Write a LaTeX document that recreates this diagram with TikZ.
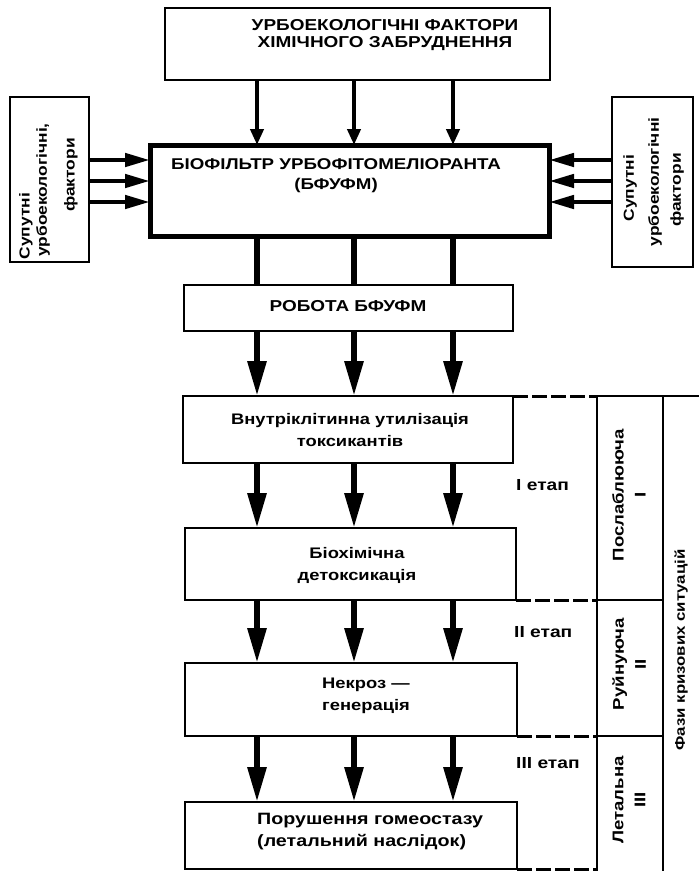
\documentclass[tikz,border=0pt]{standalone}
\usepackage{fontspec}
\setmainfont[FakeStretch=1.2]{Liberation Sans}
\usetikzlibrary{arrows.meta}
\begin{document}
\begin{tikzpicture}[x=1pt,y=-1pt,
  box/.style={draw, line width=2.4pt, rectangle, inner sep=0pt, outer sep=0pt, anchor=north west},
  txt/.style={font=\bfseries\fontsize{15.8}{17}\selectfont, align=center, inner sep=0pt},
  ltxt/.style={font=\bfseries\fontsize{15.3}{22}\selectfont, inner sep=0pt},
  stg/.style={font=\bfseries\fontsize{16}{18}\selectfont, inner sep=0pt, anchor=west},
  rot/.style={font=\bfseries\fontsize{15.5}{22}\selectfont, inner sep=0pt, rotate=90, align=center},
  side/.style={font=\bfseries\fontsize{14.5}{18}\selectfont, inner sep=0pt, rotate=90},
  bigarr/.style={line width=6pt, -{Triangle[length=35pt,width=18pt]}},
  midarr/.style={line width=4.5pt, -{Triangle[length=16pt,width=13pt]}},
  sidearr/.style={line width=4.5pt, -{Triangle[length=25pt,width=13pt]}},
  plainln/.style={line width=6pt},
  dashln/.style={line width=3pt, dash pattern=on 15pt off 4pt},
  colln/.style={line width=2.4pt}]
\useasboundingbox (0,0) rectangle (699,871);

% column coordinates
\coordinate (c1) at (257,0);
\coordinate (c2) at (354,0);
\coordinate (c3) at (453,0);
\coordinate (r1) at (0,160);
\coordinate (r2) at (0,181);
\coordinate (r3) at (0,202);

% boxes
\node[box, minimum width=385pt, minimum height=72pt] (top) at (165,8) {};
\node[box, line width=5pt, minimum width=399pt, minimum height=91pt] (bf) at (150,145) {};
\node[box, minimum width=79pt, minimum height=165pt] (lbox) at (10,97) {};
\node[box, minimum width=81pt, minimum height=170pt] (rbox) at (612,97) {};
\node[box, minimum width=329pt, minimum height=46pt] (rob) at (184,285) {};
\node[box, minimum width=330pt, minimum height=67pt] (b1) at (183,396) {};
\node[box, minimum width=331pt, minimum height=72pt] (b2) at (185,528) {};
\node[box, minimum width=332pt, minimum height=73pt] (b3) at (185,663) {};
\node[box, minimum width=332pt, minimum height=67pt] (b4) at (185,802) {};

% texts
\node[txt] (ttop) at (385,35) {УРБОЕКОЛОГІЧНІ ФАКТОРИ\\ХІМІЧНОГО ЗАБРУДНЕННЯ};
\node[txt, font=\bfseries\fontsize{15.6}{20}\selectfont] (tbf) at (336,176) {БІОФІЛЬТР УРБОФІТОМЕЛІОРАНТА\\(БФУФМ)};
\node[txt] (trob) at (348,306) {РОБОТА БФУФМ};
\node[ltxt, align=center] (tb1) at (350,430) {Внутріклітинна утилізація\\токсикантів};
\node[ltxt, align=center] (tb2) at (357,565) {Біохімічна\\детоксикація};
\node[ltxt, align=left, anchor=west] (tb3) at (322,696) {Некроз —\\генерація};
\node[ltxt, font=\bfseries\fontsize{16.4}{22}\selectfont, align=left, anchor=west] (tb4) at (257,832) {Порушення гомеостазу\\(летальний наслідок)};

\node[side] (l1) at (26,226) {Супутні};
\node[side] (l2) at (43,190) {урбоекологічні,};
\node[side] (l3) at (71,175) {фактори};
\node[side] (q1) at (630,188) {Супутні};
\node[side] (q2) at (655,182) {урбоекологічні};
\node[side] (q3) at (677,190) {фактори};

\node[stg] (s1) at (516,485) {I етап};
\node[stg] (s2) at (514,632) {II етап};
\node[stg] (s3) at (516,763) {III етап};

\node[rot] (p1) at (629,495) {Послаблююча\\I};
\node[rot] (p2) at (629,664) {Руйнуюча\\II};
\node[rot] (p3) at (629,800) {Летальна\\III};
\node[rot, font=\bfseries\fontsize{14}{22}\selectfont] (p4) at (681,650) {Фази кризових ситуацій};

% arrows
\foreach \c in {c1,c2,c3} {
  \draw[midarr] (top.south -| \c) -- (bf.north -| \c);
  \draw[plainln] (bf.south -| \c) -- (rob.north -| \c);
  \draw[bigarr] (rob.south -| \c) -- (b1.north -| \c);
  \draw[bigarr] (b1.south -| \c) -- (b2.north -| \c);
  \draw[bigarr] (b2.south -| \c) -- (b3.north -| \c);
  \draw[bigarr] (b3.south -| \c) -- (b4.north -| \c);
}
\foreach \r in {r1,r2,r3} {
  \draw[sidearr] (lbox.east |- \r) -- (bf.west |- \r);
  \draw[sidearr] (rbox.west |- \r) -- (bf.east |- \r);
}

% right structure
\coordinate (ca) at (597,396);
\coordinate (cb) at (663,396);
\coordinate (ce) at (699,396);
\coordinate (cabot) at (597,871);
\coordinate (cbbot) at (663,871);
\coordinate (s1a) at (597,600);
\coordinate (s1b) at (663,600);
\coordinate (s2a) at (597,736);
\coordinate (s2b) at (663,736);
\coordinate (s3a) at (597,869);

\draw[dashln] (b1.north east) -- (ca);
\draw[dashln] (b2.south east) -- (s1a);
\draw[dashln] (b3.south east) -- (s2a);
\draw[dashln] (b4.south east) -- (s3a);
\draw[colln] (ca) -- (ce);
\draw[colln] (ca) -- (cabot);
\draw[colln] (cb) -- (cbbot);
\draw[colln] (s1a) -- (s1b);
\draw[colln] (s2a) -- (s2b);
\end{tikzpicture}
\end{document}
